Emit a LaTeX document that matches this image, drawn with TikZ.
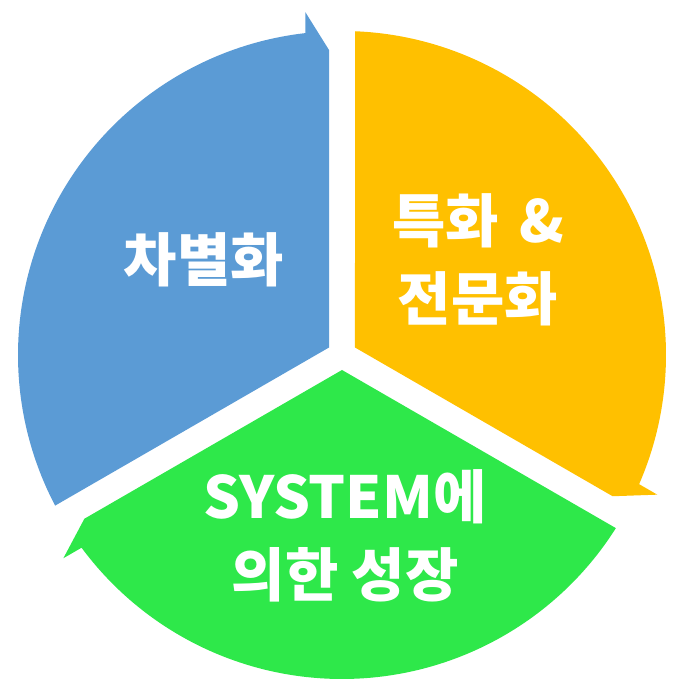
\documentclass[tikz,border=0pt]{standalone}
\usepackage{fontspec}
\newfontfamily\kr{Noto Sans CJK KR}
\usetikzlibrary{calc}
\definecolor{segblue}{HTML}{5B9BD5}
\definecolor{segorange}{HTML}{FFC000}
\definecolor{seggreen}{HTML}{2EE84A}
\tikzset{
  label text/.style={text=white, font=\kr\bfseries\fontsize{58}{78}\selectfont, align=center, inner sep=0pt}
}
\newcommand{\cycseg}[2]{%
  \pgfmathsetmacro{\segA}{#1-120}%
  \pgfmathsetmacro{\segT}{#1-2.30}%
  \pgfmathsetmacro{\segB}{\segA+6.5}%
  \fill[#2] ($(C)+({#1-60}:15)$) -- ($(C)+({#1-90}:13)+({#1}:323.74)$)
    arc[start angle=\segT, end angle=\segB, radius=324]
    -- ++(\segA:21) -- ($(C)+({\segA+90}:13)+(\segA:305)$) -- cycle;
}
\begin{document}
\begin{tikzpicture}[x=1pt,y=1pt]
\useasboundingbox (0,0) rectangle (700,700);
\coordinate (C) at (342,345);
\cycseg{210}{segblue}
\cycseg{90}{segorange}
\cycseg{-30}{seggreen}
\node[label text] (t1) at (204,440) {차별화};
\node[label text] (t2) at (478,440) {특화\hspace{0.35em}\&\\전문화};
\node[label text] (t3) at (345,164) {SYSTEM에\\의한 성장};
\end{tikzpicture}
\end{document}
